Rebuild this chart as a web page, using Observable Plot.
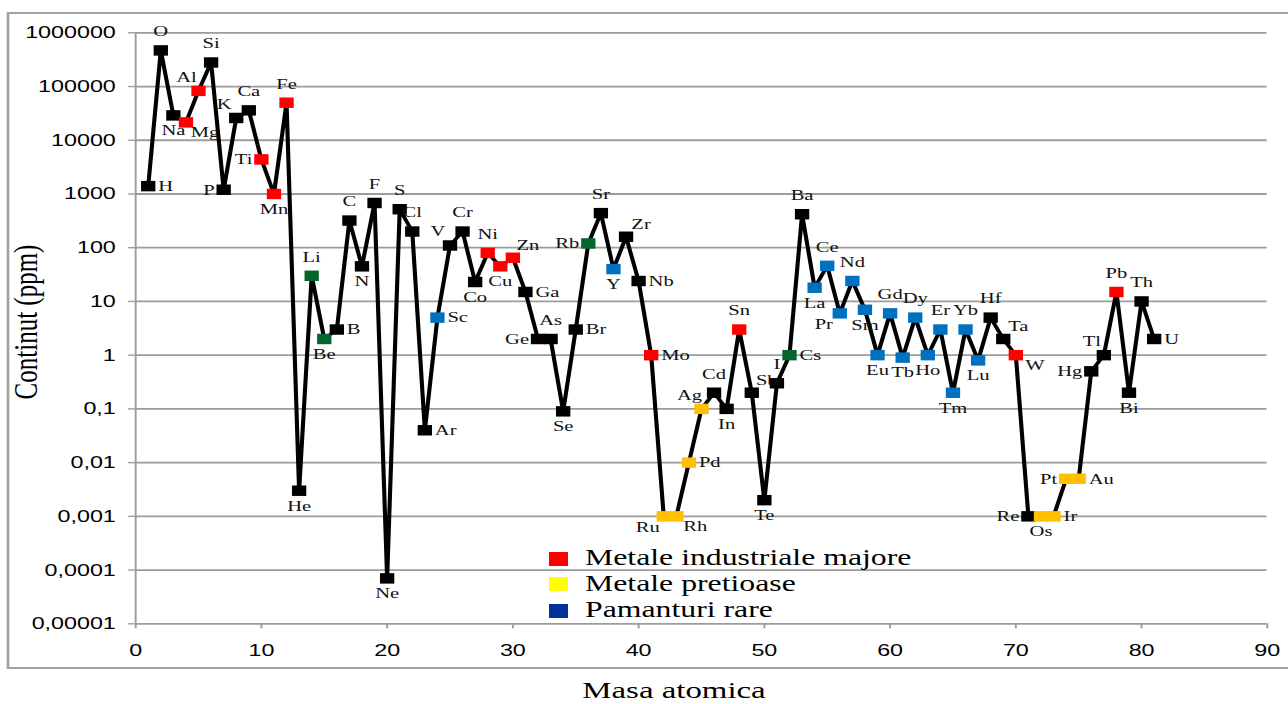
<!DOCTYPE html>
<html><head><meta charset="utf-8">
<script src="https://cdn.jsdelivr.net/npm/d3@7"></script>
<script src="https://cdn.jsdelivr.net/npm/@observablehq/plot@0.6"></script>
<style>html,body{margin:0;padding:0;background:#fff;} #chart svg{display:block;}</style>
</head><body><div id="chart"></div>
<script>
// ---------- data ----------
const elements = ["H","O","Na","Mg","Al","Si","P","K","Ca","Ti","Mn","Fe","He","Li","Be","B","C","N","F","Ne",
  "S","Cl","Ar","Sc","V","Cr","Co","Ni","Cu","Zn","Ga","Ge","As","Se","Br","Rb","Sr","Y","Zr","Nb",
  "Mo","Ru","Rh","Pd","Ag","Cd","In","Sn","Sb","Te","I","Cs","Ba","La","Ce","Pr","Nd","Sm","Eu","Gd",
  "Tb","Dy","Ho","Er","Tm","Yb","Lu","Hf","Ta","W","Re","Os","Ir","Pt","Au","Hg","Tl","Pb","Bi","Th","U"];
const massPos = [1,2,3,4,5,6,7,8,9,10,11,12,13,14,15,16,17,18,19,20,
  21,22,23,24,25,26,27,28,29,30,31,32,33,34,35,36,37,38,39,40,
  41,42,43,44,45,46,47,48,49,50,51,52,53,54,55,56,57,58,59,60,
  61,62,63,64,65,66,67,68,69,70,71,72,73,74,75,76,77,78,79,80,81];
const ppm = [1400,470000,29000,21500,83000,280000,1200,26000,36000,4400,1000,50000,0.003,30,2,3,320,45,680,0.00007,
  520,200,0.04,5,110,200,23,80,45,65,15,2,2,0.09,3,120,440,40,160,24,
  1,0.001,0.001,0.01,0.1,0.2,0.1,3,0.2,0.002,0.3,1,420,18,46,6,24,7,1,6,
  0.9,5,1,3,0.2,3,0.8,5,2,1,0.001,0.001,0.001,0.005,0.005,0.5,1,15,0.2,10,2];
const group = ["k","k","k","ind","ind","k","k","k","k","ind","ind","ind","k","alk","alk","k","k","k","k","k",
  "k","k","k","rare","k","k","k","ind","ind","ind","k","k","k","k","k","alk","k","rare","k","k",
  "ind","pre","pre","pre","pre","k","k","ind","k","k","k","alk","k","rare","rare","rare","rare","rare","rare","rare",
  "rare","rare","rare","rare","rare","rare","rare","k","k","ind","k","pre","pre","pre","pre","k","k","ind","k","k","k"];
const groupKeys = ["k","ind","pre","rare","alk"];
const groupColors = ["#000000","#FF0000","#FFC000","#0070C0","#05652F"];
const xTicks = [0,10,20,30,40,50,60,70,80,90];
const yTicks = [0.00001,0.0001,0.001,0.01,0.1,1,10,100,1000,10000,100000,1000000];
const yTickLabels = ["0,00001","0,0001","0,001","0,01","0,1","1","10","100","1000","10000","100000","1000000"];
const legendLabels = ["Metale industriale majore","Metale pretioase","Pamanturi rare"];
const legendColors = ["#FF0000","#FFFF00","#003399"];
const xTitle = "Masa atomica";
const yTitle = "Continut (ppm)";

// ---------- layout (label placement around each marker) ----------
const labelPlace = {H:"r",O:"a",Na:"b",Mg:"br",Al:"al",Si:"a",P:"l",K:"al",Ca:"a",Ti:"l",Mn:"b",Fe:"a",
  He:"b",Li:"a",Be:"b",B:"r",C:"a",N:"b",F:"a",Ne:"b",S:"a",Cl:"a",Ar:"r",Sc:"r",V:"al",Cr:"a",Co:"b",
  Ni:"a",Cu:"b",Zn:"ar",Ga:"r",Ge:"l",As:"a",Se:"b",Br:"r",Rb:"l",Sr:"a",Y:"b",Zr:"ar",Nb:"r",Mo:"r",
  Ru:"bl",Rh:"br",Pd:"r",Ag:"al",Cd:"a",In:"b",Sn:"a",Sb:"ar",Te:"b",I:"a",Cs:"r",Ba:"a",La:"b",Ce:"a",
  Pr:"bl",Nd:"a",Sm:"b",Eu:"b",Gd:"a",Tb:"b",Dy:"a",Ho:"b",Er:"a",Tm:"b",Yb:"a",Lu:"b",Hf:"a",Ta:"ar",
  W:"br",Re:"l",Os:"b",Ir:"r",Pt:"l",Au:"r",Hg:"l",Tl:"al",Pb:"a",Bi:"b",Th:"a",U:"r"};
const placeStyle = {
  a:{anchor:"middle",dx:0,dy:-19}, b:{anchor:"middle",dx:0,dy:15},
  l:{anchor:"end",dx:-9,dy:0}, r:{anchor:"start",dx:10,dy:0},
  al:{anchor:"middle",dx:-12,dy:-14}, ar:{anchor:"middle",dx:15,dy:-13},
  bl:{anchor:"middle",dx:-16,dy:11}, br:{anchor:"middle",dx:19,dy:10}
};

const W0 = 940, H = 704, S = 1288 / W0;   // chart drawn narrower, then stretched horizontally
const data = elements.map((e, i) => ({el: e, x: massPos[i], v: ppm[i], g: group[i], p: labelPlace[e]}));
const grid = "#9c9c9c";
const serif = "'Liberation Serif', 'Times New Roman', serif";

const labelMarks = Object.entries(placeStyle).map(([k, p]) =>
  Plot.text(data.filter(d => d.p === k), {
    x: "x", y: "v", text: "el", textAnchor: p.anchor, dx: p.dx / S, dy: p.dy,
    fontFamily: serif, fontSize: 15, fill: "#111"
  }));

const svg = Plot.plot({
  width: W0, height: H,
  marginLeft: 98.5, marginRight: 15.6, marginTop: 32.3, marginBottom: 80.7,
  style: {fontFamily: "'Liberation Sans', Arial, sans-serif", fontSize: "17px", background: "white", color: "#000"},
  x: {domain: [0, 90], label: null},
  y: {type: "log", domain: [0.00001, 1000000], label: null},
  color: {domain: groupKeys, range: groupColors},
  marks: [
    Plot.ruleY(yTicks, {stroke: grid, strokeWidth: 1.8}),
    Plot.ruleX([0], {stroke: grid, strokeWidth: 1.4}),
    Plot.axisY({ticks: yTicks, tickFormat: d => yTickLabels[yTicks.indexOf(d)], tickSize: 5, tickPadding: 9.5,
      stroke: grid, fill: "#000", strokeWidth: 1.4, label: null}),
    Plot.axisX({ticks: xTicks, tickSize: 5, tickPadding: 15, stroke: grid, fill: "#000", strokeWidth: 1.4, label: null}),
    Plot.line(data, {x: "x", y: "v", stroke: "#000", strokeWidth: 3, strokeLinejoin: "miter"}),
    Plot.dot(data, {x: "x", y: "v", symbol: "square", r: 5.9, fill: "g", stroke: "none"}),
    ...labelMarks
  ]
});

svg.setAttribute("width", 1288);
svg.setAttribute("height", H);
svg.setAttribute("preserveAspectRatio", "none");
svg.style.maxWidth = "none";
svg.style.width = "1288px";
svg.style.height = H + "px";

const g = d3.select(svg);
// outer chart border
g.append("rect").attr("x", 8 / S).attr("y", 13).attr("width", 960).attr("height", 655)
  .attr("fill", "none").attr("stroke", "#a3a3a3").attr("stroke-width", 2);
// axis titles
g.append("text").attr("transform", `translate(${37 / S},322) rotate(-90)`).attr("text-anchor", "middle")
  .attr("font-family", serif).style("font-family", serif).style("font-size", "25px").attr("fill", "#000").text(yTitle);
g.append("text").attr("x", 674 / S).attr("y", 698).attr("text-anchor", "middle")
  .attr("font-family", serif).style("font-family", serif).style("font-size", "24px").attr("fill", "#000").text(xTitle);
// legend
const legTop = [552, 577, 604], legBase = [565.5, 591, 617];
legendLabels.forEach((lab, i) => {
  g.append("rect").attr("x", 549 / S).attr("y", legTop[i]).attr("width", 19 / S).attr("height", 14)
    .attr("fill", legendColors[i]);
  g.append("text").attr("x", 585 / S).attr("y", legBase[i]).attr("text-anchor", "start")
    .attr("font-family", serif).style("font-family", serif).style("font-size", "23.2px").attr("fill", "#000").text(lab);
});

document.getElementById("chart").appendChild(svg);
</script>
</body></html>
